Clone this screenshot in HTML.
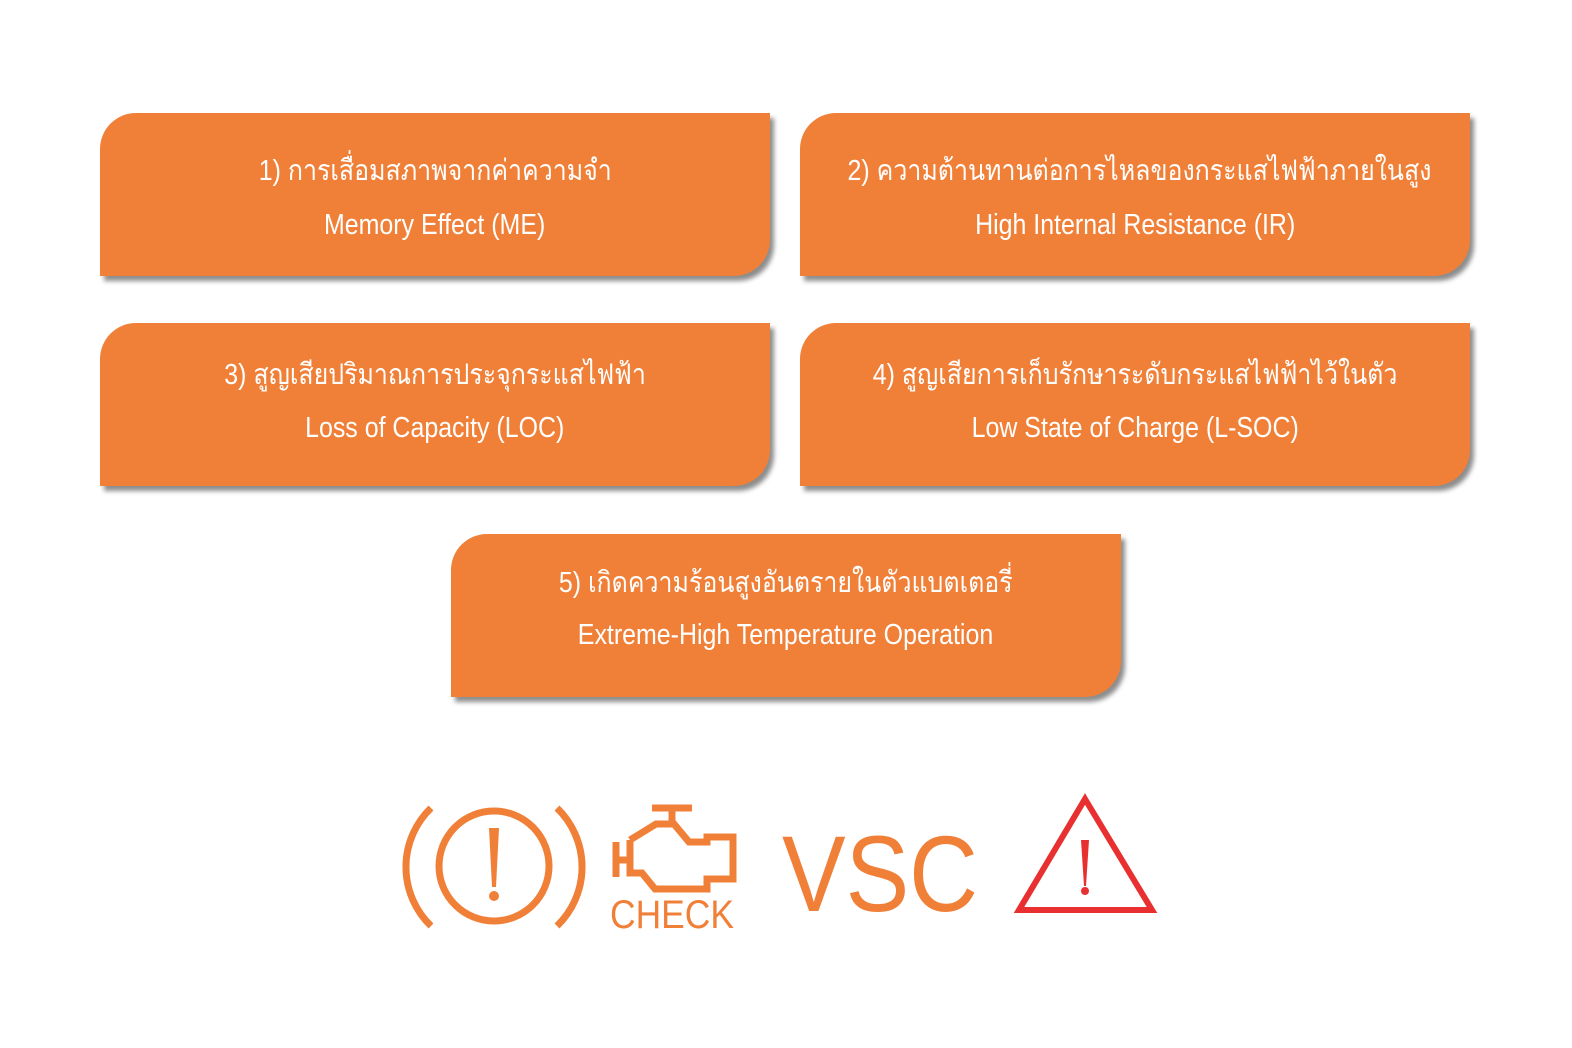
<!DOCTYPE html>
<html><head><meta charset="utf-8"><style>
body{margin:0;width:1572px;height:1048px;background:#fff;position:relative;overflow:hidden;font-family:"Liberation Sans","DejaVu Sans",sans-serif}
.b{position:absolute;width:670px;height:163px;background:#F08038;border-radius:36px 0 36px 0;box-shadow:4px 5px 5px rgba(0,0,0,.45);color:#fff}
.t{position:absolute;left:0;width:100%;text-align:center;font-size:29px;line-height:34px;white-space:nowrap}
.t span{display:inline-block;transform:scaleX(.86)}
.l1{top:41px}.l2{top:95px}
.u .l1{top:35px}.u .l2{top:88px}
.w .l1{top:32px}.w .l2{top:84px}
</style></head><body>
<div class="b" style="left:100px;top:113px"><div class="t l1"><span>1) การเสื่อมสภาพจากค่าความจำ</span></div><div class="t l2"><span>Memory Effect (ME)</span></div></div>
<div class="b" style="left:800px;top:113px"><div class="t l1"><span>2) ความต้านทานต่อการไหลของกระแสไฟฟ้าภายในสูง</span></div><div class="t l2"><span>High Internal Resistance (IR)</span></div></div>
<div class="b u" style="left:100px;top:323px"><div class="t l1"><span>3) สูญเสียปริมาณการประจุกระแสไฟฟ้า</span></div><div class="t l2"><span>Loss of Capacity (LOC)</span></div></div>
<div class="b u" style="left:800px;top:323px"><div class="t l1"><span>4) สูญเสียการเก็บรักษาระดับกระแสไฟฟ้าไว้ในตัว</span></div><div class="t l2"><span>Low State of Charge (L-SOC)</span></div></div>
<div class="b w" style="left:451px;top:534px"><div class="t l1"><span>5) เกิดความร้อนสูงอันตรายในตัวแบตเตอรี่</span></div><div class="t l2"><span>Extreme-High Temperature Operation</span></div></div>
<svg style="position:absolute;left:0;top:0" width="1572" height="1048">
<g fill="none" stroke="#F08038" stroke-width="7">
<circle cx="494" cy="866" r="55"/>
<path d="M431 808 A82 82 0 0 0 431 926"/>
<path d="M557 808 A82 82 0 0 1 557 926"/>
<path d="M672 810 V823 M652 808 H692 M616 842 V877 M616 860 H630 M630 840 V873 H642 L655 889 H707 V879 H733 V837 H707 V842 H689 L674 824 H656 L630 840"/>
</g>
<path d="M489 828 H499 L496 887 H492Z" fill="#F08038"/><circle cx="494" cy="896" r="5" fill="#F08038"/>
<text x="672" y="928" font-size="40" fill="#F08038" text-anchor="middle" textLength="124" lengthAdjust="spacingAndGlyphs">CHECK</text>
<text x="880" y="911" font-size="108" fill="#F08038" text-anchor="middle" textLength="196" lengthAdjust="spacingAndGlyphs">VSC</text>
<path d="M1085 799 L1152 910 H1019Z" fill="none" stroke="#E83030" stroke-width="6"/>
<path d="M1081 840 H1089 L1086 886 H1084Z" fill="#E83030"/><circle cx="1085" cy="891" r="4" fill="#E83030"/>
</svg>
</body></html>
